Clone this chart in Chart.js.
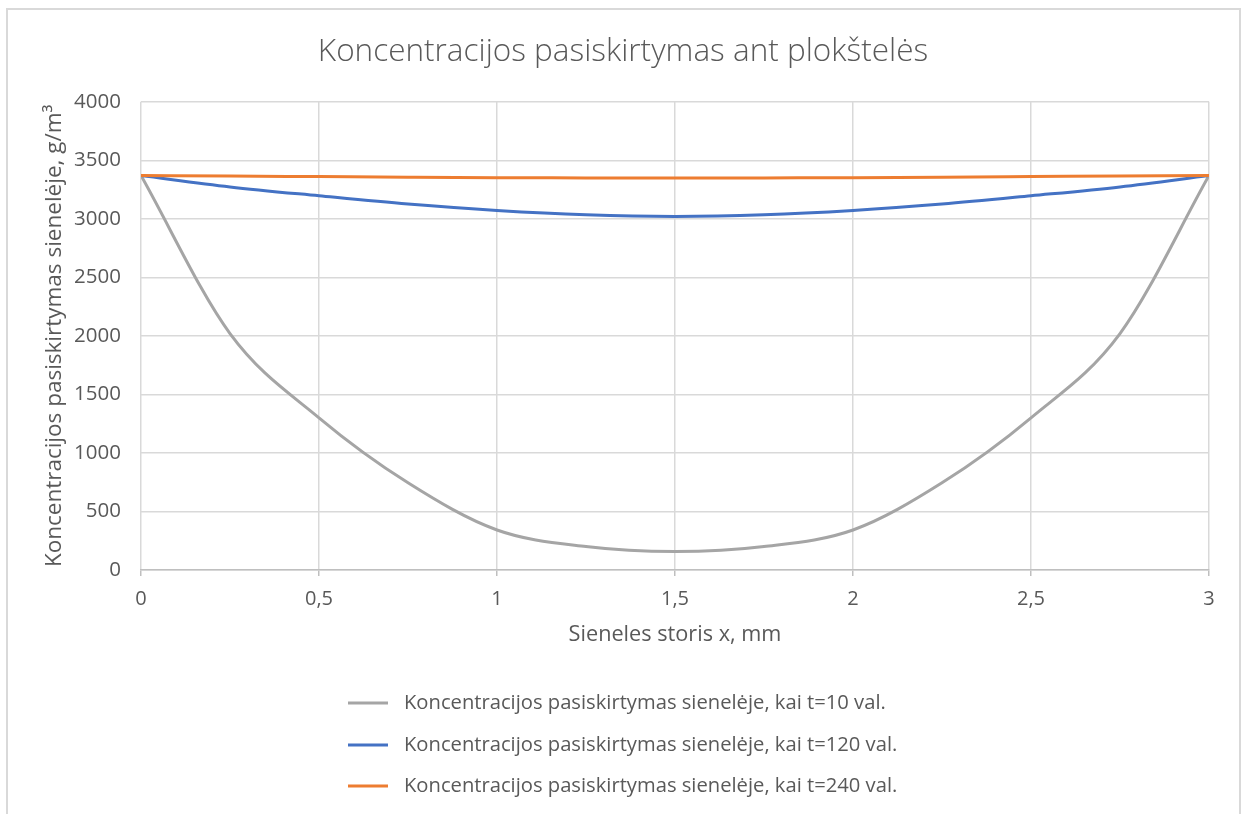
<!DOCTYPE html>
<html lang="lt">
<head>
<meta charset="utf-8">
<title>Koncentracijos pasiskirtymas ant plokštelės</title>
<script src="https://cdn.jsdelivr.net/npm/chart.js@4/dist/chart.umd.min.js"></script>
<style>
  html, body { margin: 0; padding: 0; background: #ffffff; }
  #wrap { position: relative; width: 1246px; height: 814px; overflow: hidden; }
  canvas { display: block; }
</style>
</head>
<body>
<div id="wrap"><canvas id="chart" width="1246" height="814"></canvas></div>
<script>
// Sienelės storis x, mm
const xPositions = [0, 0.25, 0.5, 0.75, 1, 1.25, 1.5, 1.75, 2, 2.25, 2.5, 2.75, 3];

// Koncentracija, g/m³
const concT10  = [3370, 2020, 1300, 745, 342, 200, 157, 200, 342, 745, 1300, 2020, 3370];
const concT120 = [3370, 3273, 3197, 3126, 3071, 3034, 3020, 3034, 3071, 3126, 3197, 3273, 3370];
const concT240 = [3370, 3366, 3361, 3356, 3352, 3350, 3348, 3350, 3352, 3356, 3361, 3366, 3370];

const seriesLabels = [
  'Koncentracijos pasiskirtymas sienelėje, kai t=10 val.',
  'Koncentracijos pasiskirtymas sienelėje, kai t=120 val.',
  'Koncentracijos pasiskirtymas sienelėje, kai t=240 val.'
];
const seriesColors = ['#A5A5A5', '#4472C4', '#ED7D31'];

const chartTitle = 'Koncentracijos pasiskirtymas ant plokštelės';
const xTitle = 'Sieneles storis x, mm';
const yTitle = 'Koncentracijos pasiskirtymas sienelėje, g/m³';

const TEXT = '#595959';
const GRID = '#D9D9D9';
const FONT = '"Open Sans", Lato, sans-serif';

const toPoints = (ys) => ys.map((y, i) => ({ x: xPositions[i], y }));

// Frame around the whole chart object
const framePlugin = {
  id: 'frame',
  beforeDraw(chart) {
    const { ctx } = chart;
    ctx.save();
    ctx.fillStyle = '#ffffff';
    ctx.fillRect(0, 0, chart.width, chart.height);
    ctx.strokeStyle = '#D9D9D9';
    ctx.lineWidth = 2;
    ctx.strokeRect(7, 9, chart.width - 13, chart.height + 20);
    ctx.restore();
  }
};

// Vertical legend under the x axis title, one series per row
const stackedLegend = {
  id: 'stackedLegend',
  afterDraw(chart) {
    const { ctx } = chart;
    const sets = chart.data.datasets;
    ctx.save();
    ctx.font = '20.2px ' + FONT;
    ctx.textBaseline = 'middle';
    ctx.textAlign = 'left';
    const lineLen = 40, gap = 16;
    let maxW = 0;
    sets.forEach(ds => { maxW = Math.max(maxW, ctx.measureText(ds.label).width); });
    const left = Math.round(chart.width / 2 - (lineLen + gap + maxW) / 2);
    const rowY = [703, 745, 786];
    sets.forEach((ds, i) => {
      const y = rowY[i];
      ctx.strokeStyle = ds.borderColor;
      ctx.lineWidth = 3;
      ctx.lineCap = 'butt';
      ctx.beginPath();
      ctx.moveTo(left, y);
      ctx.lineTo(left + lineLen, y);
      ctx.stroke();
      ctx.fillStyle = TEXT;
      ctx.fillText(ds.label, left + lineLen + gap, y);
    });
    ctx.restore();
  }
};

// later series sit on top of earlier ones
const datasets = [concT10, concT120, concT240].map((ys, i) => ({
  label: seriesLabels[i],
  data: toPoints(ys),
  borderColor: seriesColors[i],
  backgroundColor: seriesColors[i],
  borderWidth: 3,
  pointRadius: 0,
  cubicInterpolationMode: 'monotone',
  order: 3 - i,
  fill: false
}));

new Chart(document.getElementById('chart'), {
  type: 'line',
  data: { datasets },
  options: {
    responsive: false,
    animation: false,
    events: [],
    layout: { padding: { left: 0, right: 0, top: 0, bottom: 134 } },
    plugins: {
      legend: { display: false },
      tooltip: { enabled: false },
      title: {
        display: true,
        text: chartTitle,
        color: TEXT,
        font: { family: FONT, size: 31.5, weight: '300' },
        padding: { top: 33, bottom: 31 }
      }
    },
    scales: {
      x: {
        type: 'linear',
        min: 0,
        max: 3,
        afterFit(scale) { scale.height = 110; },
        ticks: {
          stepSize: 0.5,
          color: TEXT,
          padding: 11,
          font: { family: FONT, size: 20 },
          maxRotation: 0,
          callback: (v) => String(v).replace('.', ',')
        },
        grid: { color: GRID, lineWidth: 1.5, tickLength: 6, tickColor: '#BFBFBF' },
        border: { color: '#BFBFBF', width: 1.5 },
        title: {
          display: true,
          text: xTitle,
          color: TEXT,
          font: { family: FONT, size: 21.7 },
          padding: { top: 0, bottom: 32 }
        }
      },
      y: {
        min: 0,
        max: 4000,
        afterFit(scale) { scale.width = 141; },
        ticks: {
          stepSize: 500,
          color: TEXT,
          padding: 20,
          font: { family: FONT, size: 20.5 },
          callback: (v) => String(v)
        },
        grid: { color: GRID, lineWidth: 1.5, drawTicks: false },
        border: { display: false },
        title: {
          display: true,
          text: yTitle,
          color: TEXT,
          font: { family: FONT, size: 22.5 },
          padding: { top: 41, bottom: 0 }
        }
      },
      // empty margin on the right side of the plot
      yMargin: {
        position: 'right',
        display: true,
        afterFit(scale) { scale.width = 37; },
        ticks: { display: false },
        grid: { display: false, drawTicks: false },
        border: { display: false }
      }
    }
  },
  plugins: [framePlugin, stackedLegend]
});
</script>
</body>
</html>
